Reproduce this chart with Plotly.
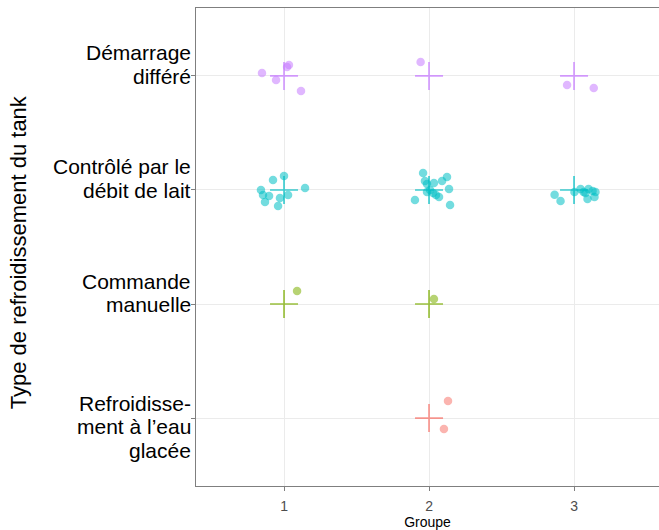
import plotly.graph_objects as go

# Cooling-type categories, bottom to top on the y axis (one entry per text line)
category_lines = [
    ["Refroidisse-", "ment à l\u2019eau", "glacée"],
    ["Commande", "manuelle"],
    ["Contrôlé par le", "débit de lait"],
    ["Démarrage", "différé"],
]
colors = ["#F8766D", "#7CAE00", "#00BFC4", "#C77CFF"]

# Groups in which each cooling type occurs (cross markers)
groups_present = [
    [2],
    [1, 2],
    [1, 2, 3],
    [1, 2, 3],
]

# Individual farms: jittered group position and vertical jitter around the category
refroid_x = [2.131, 2.103]
refroid_dy = [0.149, -0.096]

commande_x = [1.090, 2.034]
commande_dy = [0.114, 0.044]

controle_x = [0.924, 1.000, 1.145, 0.841, 0.855, 0.897, 0.869, 0.972, 1.028, 0.959,
              1.959, 1.972, 1.986, 2.034, 2.090, 2.124, 2.138, 1.903, 2.028, 2.069,
              2.145, 2.007, 1.986, 2.048,
              2.866, 2.907, 3.003, 3.045, 3.079, 3.100, 3.093, 3.128, 3.148, 3.141, 3.066]
controle_dy = [0.088, 0.123, 0.018, 0.000, -0.044, -0.053, -0.105, -0.070, -0.044, -0.140,
               0.149, 0.079, 0.053, 0.061, 0.079, 0.114, 0.009, -0.088, -0.026, -0.061,
               -0.132, 0.000, -0.018, -0.044,
               -0.041, -0.096, -0.018, 0.009, -0.026, 0.009, -0.079, -0.009, -0.018, -0.061, -0.018]

demarrage_x = [0.848, 0.945, 1.021, 1.034, 1.117, 1.942, 2.952, 3.136]
demarrage_dy = [0.026, -0.035, 0.079, 0.096, -0.132, 0.123, -0.079, -0.105]

points_x = [refroid_x, commande_x, controle_x, demarrage_x]
points_dy = [refroid_dy, commande_dy, controle_dy, demarrage_dy]

x_ticks = [1, 2, 3]
x_tick_labels = ["1", "2", "3"]

# vertical placement (px) of the first text line relative to its tick
first_line_shift = {2: 23, 3: 15}
line_step = 23.5

fig = go.Figure()

for i in range(len(category_lines)):
    level = i + 1
    fig.add_trace(go.Scatter(
        x=groups_present[i],
        y=[level] * len(groups_present[i]),
        mode="markers",
        marker=dict(symbol="cross-thin", size=20, color=colors[i],
                    line=dict(color=colors[i], width=1.7)),
        opacity=0.75,
        hoverinfo="skip",
        showlegend=False,
    ))
    fig.add_trace(go.Scatter(
        x=points_x[i],
        y=[level + d for d in points_dy[i]],
        mode="markers",
        marker=dict(symbol="circle", size=8.5, color=colors[i], opacity=0.55,
                    line=dict(width=0)),
        showlegend=False,
    ))

annotations = []
for i, lines in enumerate(category_lines):
    top = first_line_shift[len(lines)]
    for k, line in enumerate(lines):
        annotations.append(dict(
            text=line, xref="paper", yref="y", x=0, y=i + 1,
            xanchor="right", yanchor="middle", xshift=-3,
            yshift=top - k * line_step,
            showarrow=False, font=dict(size=21, color="black"),
        ))

annotations.append(dict(
    text="Type de refroidissement du tank",
    xref="paper", yref="paper", x=-0.384, y=0.5, yshift=-5,
    xanchor="center", yanchor="middle", textangle=-90,
    showarrow=False, font=dict(size=22, color="black"),
))

fig.update_layout(
    width=659, height=530,
    margin=dict(l=196, r=0, t=8, b=44),
    paper_bgcolor="white",
    plot_bgcolor="white",
    font=dict(family="Liberation Sans, Arial, sans-serif", color="black"),
    xaxis=dict(
        range=[0.393, 3.586],
        tickvals=x_ticks, ticktext=x_tick_labels,
        tickfont=dict(size=14, color="#4D4D4D"),
        ticks="outside", ticklen=4, tickcolor="#7F7F7F", tickwidth=1,
        ticklabelstandoff=3,
        showgrid=True, gridcolor="#EBEBEB", gridwidth=1,
        zeroline=False,
        showline=True, linecolor="#7F7F7F", linewidth=1.2, mirror=True,
        title=dict(text="Groupe", font=dict(size=14, color="black"), standoff=6),
    ),
    yaxis=dict(
        range=[0.404, 4.596],
        tickvals=[1, 2, 3, 4], showticklabels=False,
        ticks="outside", ticklen=4, tickcolor="#7F7F7F", tickwidth=1,
        showgrid=True, gridcolor="#EBEBEB", gridwidth=1,
        zeroline=False,
        showline=True, linecolor="#7F7F7F", linewidth=1.2,
        automargin=False,
    ),
    annotations=annotations,
)

fig.write_html("out.html")
